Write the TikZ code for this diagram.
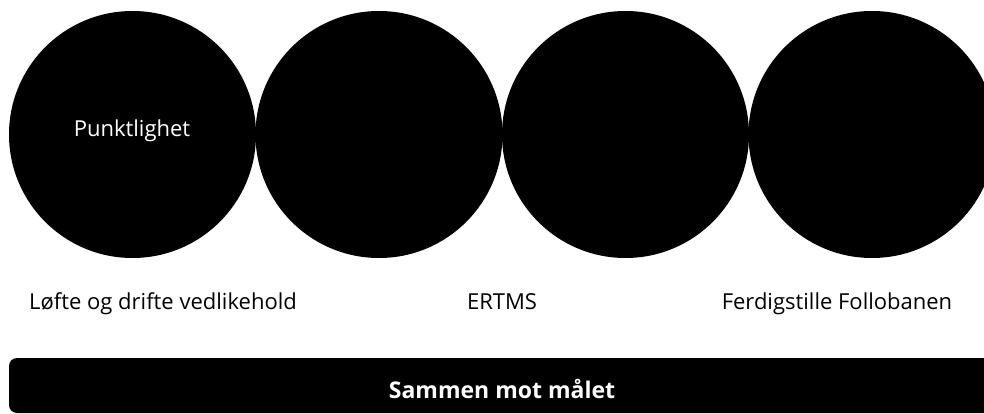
\documentclass[tikz,border=0pt]{standalone}
\usepackage{fontspec}
\setmainfont{Open Sans}
\begin{document}
\begin{tikzpicture}[x=1pt,y=-1pt]
\tikzset{
  ball/.style={circle,fill=black,inner sep=0pt,minimum size=247pt},
  lbl/.style={anchor=base,inner sep=0pt,font=\fontsize{22}{26}\selectfont}
}
\useasboundingbox (0,0) rectangle (984,414);
\clip (0,0) rectangle (984,414);

% sirkler
\node[ball] (c1) at (132.5,134.5) {};
\node[ball] (c2) at (379,134.5) {};
\node[ball] (c3) at (625.5,134.5) {};
\node[ball] (c4) at (872,134.5) {};
\node[lbl,text=white] (p1) at (132,137) {Punktlighet};

% tekst under
\node[lbl] (t1) at (163,309.5) {Løfte og drifte vedlikehold};
\node[lbl] (t2) at (502,309.5) {ERTMS};
\node[lbl] (t3) at (837,309.5) {Ferdigstille Follobanen};

% bunnlinje
\fill[rounded corners=8pt] (9,358) rectangle (996,413);
\node[lbl,text=white,font=\bfseries\fontsize{23}{27}\selectfont] (goal) at (502,398) {Sammen mot målet};

\end{tikzpicture}
\end{document}
